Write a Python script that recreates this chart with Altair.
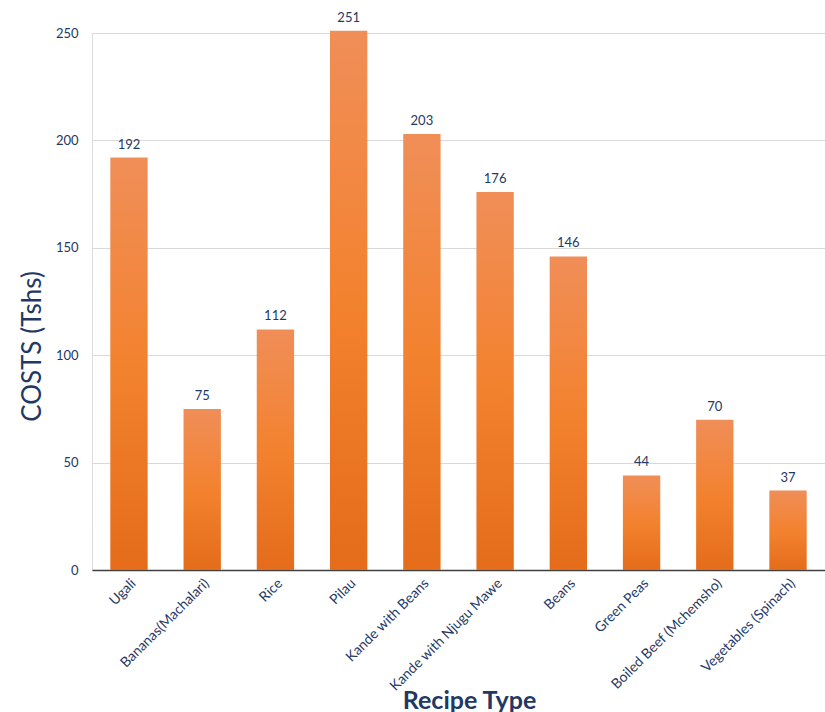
import altair as alt
import pandas as pd

recipes = ["Ugali", "Bananas(Machalari)", "Rice", "Pilau", "Kande with Beans",
           "Kande with Njugu Mawe", "Beans", "Green Peas", "Boiled Beef (Mchemsho)",
           "Vegetables (Spinach)"]
costs = [192, 75, 112, 251, 203, 176, 146, 44, 70, 37]

df = pd.DataFrame({"recipe": recipes, "cost": costs})
navy = "#1F3864"
font = "Lato"

grad = alt.LinearGradient(
    gradient="linear",
    stops=[alt.GradientStop(color="#F08E58", offset=0),
           alt.GradientStop(color="#F3822F", offset=0.5),
           alt.GradientStop(color="#E46C1A", offset=1)],
    x1=0, x2=0, y1=0, y2=1,
)

x = alt.X("recipe:N", sort=recipes, title="Recipe Type",
          scale=alt.Scale(paddingInner=0.49, paddingOuter=0.25),
          axis=alt.Axis(labelAngle=-45, labelFont=font, labelFontSize=14,
                        labelColor=navy, labelPadding=6, ticks=False,
                        domainColor="#404040", domainWidth=1.5,
                        titleFont=font, titleFontSize=25, titleFontWeight="bold",
                        titleColor=navy, titleX=377, titleY=130, titleBaseline="middle"))
y = alt.Y("cost:Q", title="COSTS (Tshs)",
          scale=alt.Scale(domain=[0, 250], nice=False),
          axis=alt.Axis(values=[0, 50, 100, 150, 200, 250], domain=False, ticks=False,
                        labelFont=font, labelFontSize=13, labelColor=navy,
                        labelPadding=14, gridColor="#D9D9D9", gridWidth=1,
                        titleFont=font, titleFontSize=26, titleFontWeight="normal",
                        titleColor=navy, titleX=-60, titleY=313, titleAngle=-90,
                        titleAlign="center", titleBaseline="middle"))

bars = alt.Chart(df).mark_bar(color=grad).encode(x=x, y=y)
labels = alt.Chart(df).mark_text(dy=-13, font=font, fontSize=13, color=navy).encode(
    x=alt.X("recipe:N", sort=recipes), y="cost:Q", text="cost:Q")

chart = (bars + labels).properties(
    width=733, height=537,
    autosize=alt.AutoSizeParams(type="none"),
    padding={"left": 92, "top": 33, "right": 0, "bottom": 142},
).configure_view(stroke=None).configure(background="white")

chart.save("out.html", embed_options={"renderer": "svg", "actions": False})
